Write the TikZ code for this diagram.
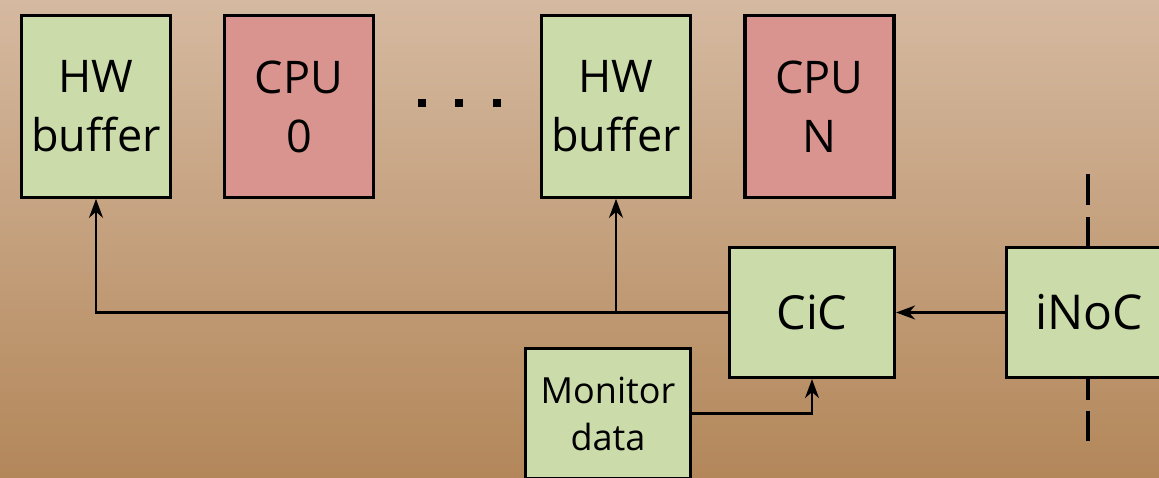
\documentclass[tikz,border=0pt]{standalone}
\usepackage{fontspec}
\setmainfont{Open Sans}
\usetikzlibrary{arrows.meta}
\definecolor{bgtop}{HTML}{D5B9A0}
\definecolor{bgbot}{HTML}{B3875A}
\definecolor{hwgreen}{HTML}{CBDBAA}
\definecolor{cpured}{HTML}{DA9490}
\begin{document}
\begin{tikzpicture}[x=1pt,y=-1pt,
  unit/.style={draw=black, line width=3.2pt, inner sep=0pt, align=center},
  tall/.style={unit, minimum width=149pt, minimum height=181.5pt,
    font=\fontsize{45}{59}\selectfont},
  wide/.style={unit, fill=hwgreen, minimum width=165pt, minimum height=130pt},
  hw/.style={tall, fill=hwgreen},
  cpu/.style={tall, fill=cpured},
  link/.style={line width=2.2pt, -{Stealth[length=19pt,width=14pt,inset=6pt]}},
  bus/.style={line width=4pt}
]
% canvas and background gradient
\useasboundingbox (0,0) rectangle (1159,477);
\clip (0,0) rectangle (1159,477);
\shade[top color=bgtop, bottom color=bgbot] (0,0) rectangle (1159,477);

% processing elements
\node[hw]  (hw1)  at (96,106.5)    {HW\\buffer};
\node[cpu] (cpu0) at (299,106.5)   {CPU\\0};
\node[hw]  (hw2)  at (616,106.5)   {HW\\buffer};
\node[cpu] (cpuN) at (819.5,106.5) {CPU\\N};

% ellipsis between the element groups
\foreach \x in {422,459,497} \fill (\x-4,99) rectangle (\x+4,107);

% interconnect boundary (dashed) behind the iNoC box
\coordinate (bustop) at (1088,174);
\coordinate (busbot) at (1088,451);
\draw[bus, dash pattern=on 31pt off 12pt] (bustop) -- (1088,260);
\draw[bus, dash pattern=on 30pt off 11pt] (1088,370) -- (busbot);

% communication blocks
\node[wide, font=\fontsize{47}{54}\selectfont] (cic)  at (812,312.5)  {CiC};
\node[wide, font=\fontsize{36}{47}\selectfont] (mon)  at (608,413.5)  {Monitor\\data};
\node[wide, font=\fontsize{48}{54}\selectfont] (inoc) at (1089,312.5) {iNoC};

% connectors
\coordinate (tap) at (hw2.south |- cic.west);
\draw[link] (cic.west) -| (hw1.south);
\draw[link] (tap) -- (hw2.south);
\draw[link] (inoc.west) -- (cic.east);
\draw[link] (mon.east) -| (cic.south);
\end{tikzpicture}
\end{document}
